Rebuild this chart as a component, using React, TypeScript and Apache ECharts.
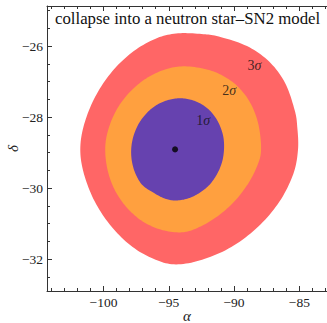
import React, { useEffect, useRef } from "react";
import * as echarts from "echarts";

// ---- data ----
const xMajorTicks = [-100, -95, -90, -85];
const xMinorTicks = [-104, -103, -102, -101, -99, -98, -97, -96, -94, -93, -92, -91, -89, -88, -87, -86, -84, -83];
const yMajorTicks = [-32, -30, -28, -26];
const yMinorTicks = [-32.5, -31.5, -31, -30.5, -29.5, -29, -28.5, -27.5, -27, -26.5, -25.5, -25];

// 3 sigma contour boundary (alpha, delta), traced counter-clockwise from the right
const sigma3Alpha = [-85.1, -85.16, -85.36, -86.1, -87.33, -89.01, -91.17, -92.49, -94.28, -95.88, -97.68, -99.33, -100.64, -101.49, -101.78, -101.5, -100.67, -99.38, -97.77, -96.01, -94.44, -92.45, -90.21, -88.16, -86.52, -85.46];
const sigma3Delta = [-28.91, -28.27, -27.8, -27.03, -26.43, -26.0, -25.73, -25.66, -25.64, -25.77, -26.14, -26.71, -27.43, -28.21, -28.91, -29.6, -30.38, -31.09, -31.66, -32.02, -32.15, -32.02, -31.66, -31.09, -30.38, -29.6];

// 2 sigma contour boundary
const sigma2Alpha = [-87.93, -88.12, -88.67, -89.55, -90.73, -92.16, -93.9, -95.29, -96.73, -98.0, -99.01, -99.65, -99.87, -99.67, -99.1, -98.19, -97.0, -95.62, -94.13, -92.98, -91.52, -90.11, -88.95, -88.19];
const sigma2Delta = [-28.91, -28.23, -27.66, -27.2, -26.86, -26.65, -26.57, -26.66, -26.91, -27.3, -27.8, -28.37, -28.91, -29.52, -30.08, -30.56, -30.94, -31.17, -31.25, -31.15, -30.86, -30.43, -29.89, -29.34];

// 1 sigma contour boundary
const sigma1Alpha = [-90.77, -90.83, -91.15, -91.67, -92.38, -93.22, -94.13, -95.06, -95.94, -96.7, -97.31, -97.71, -97.88, -97.81, -97.51, -96.98, -96.04, -95.28, -94.51, -93.59, -92.71, -91.94, -91.34, -90.93];
const sigma1Delta = [-28.91, -28.54, -28.19, -27.89, -27.66, -27.52, -27.47, -27.52, -27.66, -27.89, -28.19, -28.54, -28.91, -29.28, -29.63, -29.93, -30.16, -30.3, -30.35, -30.3, -30.15, -29.93, -29.63, -29.28];

// best-fit point
const bestAlpha = [-94.52];
const bestDelta = [-28.91];

// contour labels
const sigmaLabels = ["1", "2", "3"];
const sigmaLabelAlpha = [-92.37, -90.38, -88.43];
const sigmaLabelDelta = [-28.09, -27.25, -26.54];

const titleText = "collapse into a neutron star\u2013SN2 model";

const FONT = "Liberation Serif";
const AXIS_COLOR = "#333";

function minus(v: number) {
  return String(v).replace("-", "\u2212");
}

// closed Catmull-Rom curve through the projected boundary points (drawing only)
function smoothLoop(pts: number[][], segs: number): number[][] {
  const n = pts.length;
  const out: number[][] = [];
  for (let i = 0; i < n; i++) {
    const p0 = pts[(i - 1 + n) % n];
    const p1 = pts[i];
    const p2 = pts[(i + 1) % n];
    const p3 = pts[(i + 2) % n];
    for (let s = 0; s < segs; s++) {
      const t = s / segs;
      const t2 = t * t;
      const t3 = t2 * t;
      const f = (k: number) =>
        0.5 *
        (2 * p1[k] +
          (-p0[k] + p2[k]) * t +
          (2 * p0[k] - 5 * p1[k] + 4 * p2[k] - p3[k]) * t2 +
          (-p0[k] + 3 * p1[k] - 3 * p2[k] + p3[k]) * t3);
      out.push([f(0), f(1)]);
    }
  }
  return out;
}

function contourSeries(alpha: number[], delta: number[], color: string, z: number) {
  return {
    type: "custom",
    coordinateSystem: "cartesian2d",
    data: [[alpha[0], delta[0]]],
    z,
    silent: true,
    renderItem: (_params: any, api: any) => {
      const pts = alpha.map((a, i) => api.coord([a, delta[i]]));
      return {
        type: "polygon",
        shape: { points: smoothLoop(pts, 10) },
        style: { fill: color, stroke: null },
      };
    },
  };
}

export default function App() {
  const ref = useRef<HTMLDivElement>(null);
  useEffect(() => {
    if (!ref.current) return;
    const chart = echarts.init(ref.current, undefined, { renderer: "svg" });
    const xMin = -104.33;
    const xMax = -82.88;
    const yMin = -32.9;
    const yMax = -24.87;
    chart.setOption({
      animation: false,
      backgroundColor: "#fff",
      grid: { left: 47, right: 0, top: 6, bottom: 32, containLabel: false, outerBoundsMode: "none" },
      xAxis: [
        {
          type: "value",
          min: xMin,
          max: xMax,
          position: "bottom",
          splitLine: { show: false },
          axisLine: { show: true, onZero: false, lineStyle: { color: AXIS_COLOR, width: 1 } },
          axisTick: { show: true, inside: true, length: 5, customValues: xMajorTicks, lineStyle: { color: AXIS_COLOR } },
          axisLabel: {
            customValues: xMajorTicks,
            formatter: (v: number) => minus(v),
            fontFamily: FONT,
            fontSize: 13.5,
            color: "#222",
            margin: 4,
          },
          name: "\u03B1",
          nameLocation: "middle",
          nameGap: 17,
          nameMoveOverlap: false,
          nameTextStyle: { fontFamily: FONT, fontStyle: "italic", fontSize: 15, color: "#222" },
        },
        {
          type: "value",
          min: xMin,
          max: xMax,
          position: "bottom",
          splitLine: { show: false },
          axisLine: { show: false, onZero: false },
          axisTick: { show: true, inside: true, length: 3, customValues: xMinorTicks, lineStyle: { color: AXIS_COLOR } },
          axisLabel: { show: false },
        },
        {
          type: "value",
          min: xMin,
          max: xMax,
          position: "top",
          splitLine: { show: false },
          axisLine: { show: true, onZero: false, lineStyle: { color: AXIS_COLOR, width: 1 } },
          axisTick: { show: true, inside: true, length: 5, customValues: xMajorTicks, lineStyle: { color: AXIS_COLOR } },
          axisLabel: { show: false },
        },
        {
          type: "value",
          min: xMin,
          max: xMax,
          position: "top",
          splitLine: { show: false },
          axisLine: { show: false, onZero: false },
          axisTick: { show: true, inside: true, length: 3, customValues: xMinorTicks, lineStyle: { color: AXIS_COLOR } },
          axisLabel: { show: false },
        },
      ],
      yAxis: [
        {
          type: "value",
          min: yMin,
          max: yMax,
          position: "left",
          splitLine: { show: false },
          axisLine: { show: true, onZero: false, lineStyle: { color: AXIS_COLOR, width: 1 } },
          axisTick: { show: true, inside: true, length: 5, customValues: yMajorTicks, lineStyle: { color: AXIS_COLOR } },
          axisLabel: {
            customValues: yMajorTicks,
            formatter: (v: number) => minus(v),
            fontFamily: FONT,
            fontSize: 13.5,
            color: "#222",
            margin: 4,
          },
          name: "\u03B4",
          nameLocation: "middle",
          nameGap: 27,
          nameRotate: 90,
          nameMoveOverlap: false,
          nameTextStyle: { fontFamily: FONT, fontStyle: "italic", fontSize: 15, color: "#222" },
        },
        {
          type: "value",
          min: yMin,
          max: yMax,
          position: "left",
          splitLine: { show: false },
          axisLine: { show: false, onZero: false },
          axisTick: { show: true, inside: true, length: 3, customValues: yMinorTicks, lineStyle: { color: AXIS_COLOR } },
          axisLabel: { show: false },
        },
      ],
      series: [
        contourSeries(sigma3Alpha, sigma3Delta, "#FF6666", 1),
        contourSeries(sigma2Alpha, sigma2Delta, "#FFA03F", 2),
        contourSeries(sigma1Alpha, sigma1Delta, "#6642AF", 3),
        {
          type: "scatter",
          z: 5,
          symbol: "circle",
          symbolSize: 6,
          itemStyle: { color: "#000" },
          data: bestAlpha.map((a, i) => [a, bestDelta[i]]),
          silent: true,
        },
        {
          type: "scatter",
          z: 6,
          symbolSize: 0,
          silent: true,
          data: sigmaLabels.map((s, i) => ({ value: [sigmaLabelAlpha[i], sigmaLabelDelta[i]], name: s })),
          label: {
            show: true,
            position: "inside",
            formatter: (p: any) => `{n|${p.name}}{s|\u03C3}`,
            rich: {
              n: { fontFamily: FONT, fontSize: 14, color: "#111" },
              s: { fontFamily: FONT, fontSize: 14, fontStyle: "italic", color: "#111" },
            },
          },
        },
      ],
      graphic: [
        {
          type: "text",
          left: 55,
          top: 10,
          z: 10,
          style: {
            text: titleText,
            fontFamily: FONT,
            fontSize: 16.8,
            fill: "#111",
          },
        },
      ],
    });
    return () => chart.dispose();
  }, []);
  return (
    <div
      ref={ref}
      style={{ position: "absolute", left: 0, top: 0, width: 327, height: 323 }}
    />
  );
}
